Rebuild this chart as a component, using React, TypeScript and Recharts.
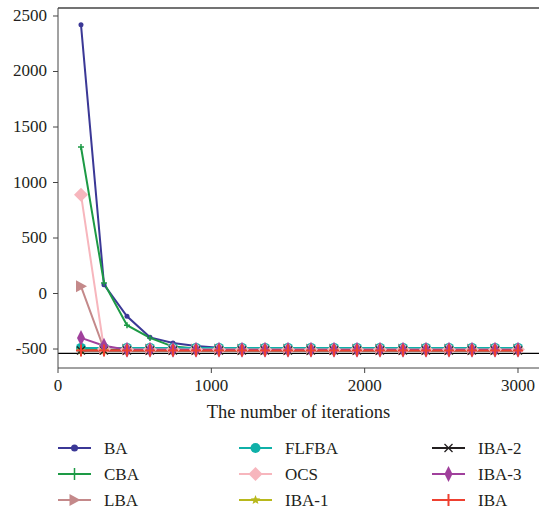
import React from 'react';
import { CartesianGrid, Line, LineChart, ReferenceLine, XAxis, YAxis } from 'recharts';

const iterations = [150, 300, 450, 600, 750, 900, 1050, 1200, 1350, 1500, 1650, 1800, 1950, 2100, 2250, 2400, 2550, 2700, 2850, 3000];

const ba = [2420, 80, -205, -395, -446, -473, -488, -492, -492, -492, -492, -492, -492, -492, -492, -492, -492, -492, -492, -492];
const cba = [1320, 95, -285, -400, -478, -495, -495, -495, -495, -495, -495, -495, -495, -495, -495, -495, -495, -495, -495, -495];
const lba = [65, -500, -505, -505, -505, -505, -505, -505, -505, -505, -505, -505, -505, -505, -505, -505, -505, -505, -505, -505];
const flfba = [-490, -490, -490, -490, -490, -490, -490, -490, -490, -490, -490, -490, -490, -490, -490, -490, -490, -490, -490, -490];
const ocs = [890, -500, -505, -505, -505, -505, -505, -505, -505, -505, -505, -505, -505, -505, -505, -505, -505, -505, -505, -505];
const iba1 = [-512, -512, -512, -512, -512, -512, -512, -512, -512, -512, -512, -512, -512, -512, -512, -512, -512, -512, -512, -512];
const iba2 = [-513, -513, -513, -513, -513, -513, -513, -513, -513, -513, -513, -513, -513, -513, -513, -513, -513, -513, -513, -513];
const iba3 = [-400, -470, -506, -506, -506, -506, -506, -506, -506, -506, -506, -506, -506, -506, -506, -506, -506, -506, -506, -506];
const iba = [-513, -513, -513, -513, -513, -513, -513, -513, -513, -513, -513, -513, -513, -513, -513, -513, -513, -513, -513, -513];

const optimum = -540;

const yTicks = [-500, 0, 500, 1000, 1500, 2000, 2500];
const xTicks = [0, 1000, 2000, 3000];

type Kind = 'dot' | 'plus' | 'tri' | 'circle' | 'diamond' | 'star' | 'cross' | 'thin' | 'plusBold';

const series: { key: string; name: string; color: string; kind: Kind; values: number[] }[] = [
  { key: 'ba', name: 'BA', color: '#3b3896', kind: 'dot', values: ba },
  { key: 'cba', name: 'CBA', color: '#1d9a45', kind: 'plus', values: cba },
  { key: 'lba', name: 'LBA', color: '#c4898a', kind: 'tri', values: lba },
  { key: 'flfba', name: 'FLFBA', color: '#0fb0a8', kind: 'circle', values: flfba },
  { key: 'ocs', name: 'OCS', color: '#f7b6bd', kind: 'diamond', values: ocs },
  { key: 'iba1', name: 'IBA-1', color: '#b8b81c', kind: 'star', values: iba1 },
  { key: 'iba2', name: 'IBA-2', color: '#231f20', kind: 'cross', values: iba2 },
  { key: 'iba3', name: 'IBA-3', color: '#a0409c', kind: 'thin', values: iba3 },
  { key: 'iba', name: 'IBA', color: '#ee4030', kind: 'plusBold', values: iba },
];

const chartData = iterations.map((it, i) => {
  const row: Record<string, number> = { it };
  series.forEach((s) => {
    row[s.key] = s.values[i];
  });
  return row;
});

const FONT = '"Liberation Serif", "Times New Roman", serif';
const textStyle = { fontFamily: FONT, fontSize: 17 };

function marker(kind: Kind, color: string, cx: number, cy: number, key?: string, legend = false) {
  switch (kind) {
    case 'dot':
      return <circle key={key} cx={cx} cy={cy} r={legend ? 3.5 : 2.5} fill={color} />;
    case 'plus': {
      const h = legend ? 6 : 3;
      return (
        <path key={key} d={`M${cx - h},${cy}H${cx + h}M${cx},${cy - h}V${cy + h}`} stroke={color} strokeWidth={1.5} fill="none" />
      );
    }
    case 'tri':
      return <path key={key} d={`M${cx - 5},${cy - 6}L${cx + 6},${cy}L${cx - 5},${cy + 6}Z`} fill={color} />;
    case 'circle':
      return <circle key={key} cx={cx} cy={cy} r={5} fill={color} />;
    case 'diamond':
      return <path key={key} d={`M${cx},${cy - 7}L${cx + 7},${cy}L${cx},${cy + 7}L${cx - 7},${cy}Z`} fill={color} />;
    case 'star': {
      const pts: string[] = [];
      for (let k = 0; k < 10; k++) {
        const r = k % 2 === 0 ? 5 : 2.2;
        const a = -Math.PI / 2 + (k * Math.PI) / 5;
        pts.push(`${cx + r * Math.cos(a)},${cy + r * Math.sin(a)}`);
      }
      return <polygon key={key} points={pts.join(' ')} fill={color} />;
    }
    case 'cross':
      return (
        <path key={key} d={`M${cx - 4},${cy - 4}L${cx + 4},${cy + 4}M${cx - 4},${cy + 4}L${cx + 4},${cy - 4}`} stroke={color} strokeWidth={1.3} fill="none" />
      );
    case 'thin':
      return <path key={key} d={`M${cx},${cy - 8}L${cx + 4},${cy}L${cx},${cy + 8}L${cx - 4},${cy}Z`} fill={color} />;
    case 'plusBold':
      return (
        <path key={key} d={`M${cx - 5},${cy}H${cx + 5}M${cx},${cy - 6}V${cy + 6}`} stroke={color} strokeWidth={2} fill="none" />
      );
  }
}

function XTick(props: any) {
  const { x, y, payload } = props;
  return (
    <text x={x} y={y + 14} textAnchor="middle" fill="#231f20" style={textStyle}>
      {payload.value}
    </text>
  );
}

function YTick(props: any) {
  const { x, y, payload } = props;
  return (
    <text x={x} y={y + 5} textAnchor="end" fill="#231f20" style={textStyle}>
      {payload.value}
    </text>
  );
}

const legendCols = [58, 239, 432];

function LegendBlock() {
  return (
    <svg width={539} height={87} style={{ position: 'absolute', left: 0, top: 428 }}>
      {series.map((s, i) => {
        const col = Math.floor(i / 3);
        const row = i % 3;
        const x0 = legendCols[col];
        const y = 20 + row * 26;
        return (
          <g key={s.key}>
            <line x1={x0} x2={x0 + 33} y1={y} y2={y} stroke={s.color} strokeWidth={2} />
            {marker(s.kind, s.color, x0 + 16.5, y, undefined, true)}
            <text x={x0 + 46} y={y + 6} fill="#231f20" style={textStyle}>
              {s.name}
            </text>
          </g>
        );
      })}
    </svg>
  );
}

export default function App() {
  return (
    <div style={{ position: 'fixed', left: 0, top: 0, width: 539, height: 515, overflow: 'hidden', background: '#fff', fontFamily: FONT }}>
      <LineChart width={539} height={428} data={chartData} margin={{ top: 8, right: 0, left: 0, bottom: 0 }}>
        <CartesianGrid stroke="none" />
        <XAxis
          dataKey="it"
          type="number"
          domain={[0, 3137]}
          ticks={xTicks}
          height={60}
          tickSize={5}
          tickMargin={4}
          stroke="#444"
          tick={<XTick />}
          label={{ value: 'The number of iterations', position: 'insideBottom', offset: 10, fill: '#231f20', style: { fontFamily: FONT, fontSize: 18.5 } }}
        />
        <YAxis
          type="number"
          domain={[-671, 2572]}
          ticks={yTicks}
          width={58}
          tickSize={5}
          tickMargin={6}
          stroke="#444"
          tick={<YTick />}
        />
        <ReferenceLine y={2572} stroke="#444" strokeWidth={1.5} />
        <ReferenceLine y={optimum} stroke="#000" strokeWidth={1.2} />
        {series.map((s) => (
          <Line
            key={s.key}
            dataKey={s.key}
            name={s.name}
            stroke={s.color}
            strokeWidth={2}
            isAnimationActive={false}
            dot={(p: any) => marker(s.kind, s.color, p.cx, p.cy, `${s.key}-${p.index}`)}
            activeDot={false}
          />
        ))}
      </LineChart>
      <LegendBlock />
    </div>
  );
}
